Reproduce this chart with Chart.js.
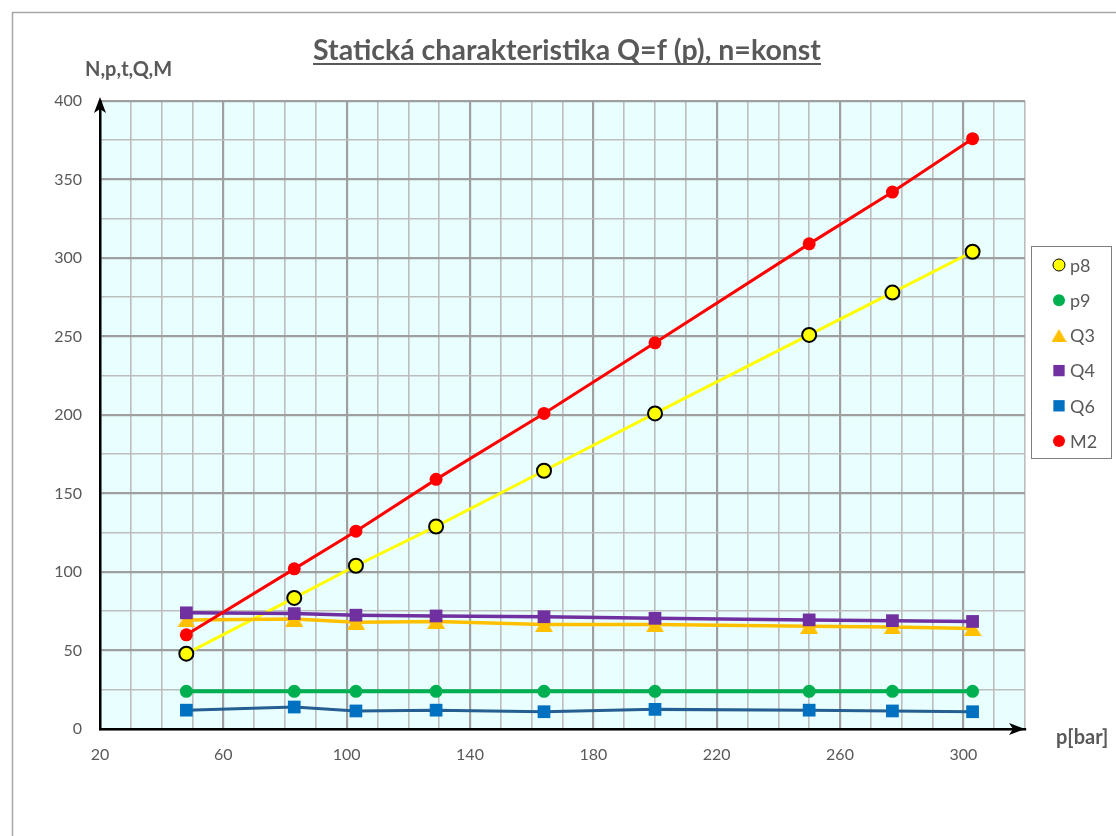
<!DOCTYPE html>
<html>
<head>
<meta charset="utf-8">
<script src="https://cdn.jsdelivr.net/npm/chart.js@4/dist/chart.umd.min.js"></script>
<style>
  html, body { margin: 0; padding: 0; background: #fff; }
  canvas { display: block; }
</style>
</head>
<body>
<canvas id="c" width="1116" height="836"></canvas>
<script>
// p [bar] on the x axis
const pressure = [48, 83, 103, 129, 164, 200, 250, 277, 303];
const p8 = [48, 83.5, 104, 129, 164.5, 201, 251, 278, 304];
const p9 = [24, 24, 24, 24, 24, 24, 24, 24, 24];
const Q3 = [69.5, 70, 68, 68.5, 66.5, 66.5, 65.5, 65, 64];
const Q4 = [74, 73.5, 72.5, 72, 71.5, 70.5, 69.5, 69, 68.5];
const Q6 = [12, 14, 11.5, 12, 11, 12.5, 12, 11.5, 11];
const M2 = [60, 102, 126, 159, 201, 246, 309, 342, 376];

const xLabels = [20, 60, 100, 140, 180, 220, 260, 300];
const yLabels = [0, 50, 100, 150, 200, 250, 300, 350, 400];

const TITLE = 'Statická charakteristika Q=f (p), n=konst';
const Y_NAME = 'N,p,t,Q,M';
const X_NAME = 'p[bar]';
const GREY_TXT = '#595959';
const FONT = 'Lato, "Liberation Sans", sans-serif';

// excel style triangle: box centred on the point
function makeTriangle(w, h, color) {
  const cv = document.createElement('canvas');
  cv.width = w; cv.height = h;
  const g = cv.getContext('2d');
  g.fillStyle = color;
  g.beginPath();
  g.moveTo(w / 2, 0);
  g.lineTo(w, h);
  g.lineTo(0, h);
  g.closePath();
  g.fill();
  return cv;
}
const triBig = makeTriangle(18, 15, '#FFC000');
const triSmall = makeTriangle(15, 13, '#FFC000');

function pts(arr) {
  return pressure.map((x, i) => ({ x, y: arr[i] }));
}

const series = [
  { label: 'p8', data: p8, line: '#FFFF00', fill: '#FFFF00', border: '#000000', bw: 2, style: 'circle', r: 7, lw: 3, order: 6 },
  { label: 'p9', data: p9, line: '#00B050', fill: '#00B050', border: '#00B050', bw: 0, style: 'circle', r: 6.5, lw: 4, order: 5 },
  { label: 'Q3', data: Q3, line: '#FFC000', fill: '#FFC000', border: '#FFC000', bw: 0, style: triBig, r: 9, lw: 3.5, order: 4 },
  { label: 'Q4', data: Q4, line: '#7030A0', fill: '#7030A0', border: '#7030A0', bw: 0, style: 'rect', r: 9, lw: 3.5, order: 3 },
  { label: 'Q6', data: Q6, line: '#255E91', fill: '#0070C0', border: '#0070C0', bw: 0, style: 'rect', r: 9, lw: 3, order: 2 },
  { label: 'M2', data: M2, line: '#FF0000', fill: '#FF0000', border: '#FF0000', bw: 0, style: 'circle', r: 6.5, lw: 3, order: 1 }
];

const datasets = series.map(s => ({
  label: s.label,
  data: pts(s.data),
  borderColor: s.line,
  borderWidth: s.lw,
  backgroundColor: s.fill,
  pointBackgroundColor: s.fill,
  pointBorderColor: s.border,
  pointBorderWidth: s.bw,
  pointStyle: s.style,
  pointRadius: s.r,
  pointHoverRadius: s.r,
  tension: 0,
  order: s.order
}));

const isMajorX = v => (v - 20) % 40 === 0;
const isMajorY = v => v % 50 === 0;

const decor = {
  id: 'decor',
  beforeDraw(chart) {
    const ctx = chart.ctx, a = chart.chartArea;
    ctx.save();
    ctx.fillStyle = '#ffffff';
    ctx.fillRect(0, 0, chart.width, chart.height);
    // outer frame
    ctx.strokeStyle = '#A6A6A6';
    ctx.lineWidth = 1.5;
    ctx.strokeRect(12.5, 12.5, chart.width + 20, chart.height + 20);
    ctx.fillStyle = '#E9FFFF';
    ctx.fillRect(a.left, a.top, a.right - a.left, a.bottom - a.top);
    ctx.restore();
  },
  afterDraw(chart) {
    const ctx = chart.ctx, a = chart.chartArea;
    ctx.save();
    // axis arrows
    ctx.fillStyle = '#000';
    ctx.beginPath();
    ctx.moveTo(a.left, a.top - 4);
    ctx.lineTo(a.left - 6, a.top + 12);
    ctx.lineTo(a.left, a.top + 8);
    ctx.lineTo(a.left + 6, a.top + 12);
    ctx.closePath();
    ctx.fill();
    ctx.beginPath();
    ctx.moveTo(a.right, a.bottom);
    ctx.lineTo(a.right - 16, a.bottom - 6);
    ctx.lineTo(a.right - 12, a.bottom);
    ctx.lineTo(a.right - 16, a.bottom + 6);
    ctx.closePath();
    ctx.fill();

    // title, underlined
    ctx.fillStyle = GREY_TXT;
    ctx.font = 'bold 28.5px ' + FONT;
    ctx.textAlign = 'center';
    ctx.textBaseline = 'alphabetic';
    const tx = 567, ty = 60;
    ctx.fillText(TITLE, tx, ty);
    const tw = ctx.measureText(TITLE).width;
    ctx.strokeStyle = GREY_TXT;
    ctx.lineWidth = 2;
    ctx.beginPath();
    ctx.moveTo(tx - tw / 2, ty + 4);
    ctx.lineTo(tx + tw / 2, ty + 4);
    ctx.stroke();

    // axis names
    ctx.font = 'bold 20px ' + FONT;
    ctx.textAlign = 'left';
    ctx.textBaseline = 'middle';
    ctx.fillText(Y_NAME, 85, 70);
    ctx.fillText(X_NAME, 1056, 738);

    // legend
    const lx = 1031, ly = 246, lw = 80, lh = 212;
    ctx.fillStyle = '#fff';
    ctx.fillRect(lx, ly, lw, lh);
    ctx.strokeStyle = '#7F7F7F';
    ctx.lineWidth = 1;
    ctx.strokeRect(lx + 0.5, ly + 0.5, lw, lh);
    ctx.font = '18px ' + FONT;
    series.forEach((s, i) => {
      const y = 265 + i * 35.2;
      if (typeof s.style === 'string') {
        ctx.fillStyle = s.fill;
        ctx.strokeStyle = s.border;
        const r = s.style === 'circle' ? 6 : 8;
        Chart.helpers.drawPoint(ctx, { pointStyle: s.style, radius: r, rotation: 0, borderWidth: s.bw }, 1059, y);
      } else {
        ctx.drawImage(triSmall, 1059 - triSmall.width / 2, y - triSmall.height / 2);
      }
      ctx.fillStyle = GREY_TXT;
      ctx.fillText(s.label, 1070, y + 1);
    });
    ctx.restore();
  }
};

new Chart(document.getElementById('c'), {
  type: 'line',
  data: { datasets },
  options: {
    responsive: false,
    animation: false,
    layout: { padding: { top: 101, left: 0, right: 91, bottom: 67 } },
    plugins: { legend: { display: false }, title: { display: false }, tooltip: { enabled: false } },
    scales: {
      x: {
        type: 'linear',
        min: 20,
        max: 320,
        afterFit(scale) { scale.height = 40; },
        ticks: {
          stepSize: 10,
          autoSkip: false,
          maxRotation: 0,
          padding: 16,
          color: GREY_TXT,
          font: { family: FONT, size: 16 },
          callback: v => xLabels.includes(v) ? String(v) : ''
        },
        grid: {
          drawTicks: false,
          color: c => (c.tick && isMajorX(c.tick.value)) ? '#9F9F9F' : '#BDBDBD',
          lineWidth: c => (c.tick && isMajorX(c.tick.value)) ? 2.2 : 1.6
        },
        border: { color: '#000000', width: 2.5 }
      },
      y: {
        min: 0,
        max: 400,
        afterFit(scale) { scale.width = 100; },
        ticks: {
          stepSize: 25,
          autoSkip: false,
          padding: 18,
          color: GREY_TXT,
          font: { family: FONT, size: 16 },
          callback: v => yLabels.includes(v) ? String(v) : ''
        },
        grid: {
          drawTicks: false,
          color: c => (c.tick && isMajorY(c.tick.value)) ? '#9F9F9F' : '#BDBDBD',
          lineWidth: c => (c.tick && isMajorY(c.tick.value)) ? 2.2 : 1.6
        },
        border: { color: '#000000', width: 2.5 }
      }
    }
  },
  plugins: [decor]
});
</script>
</body>
</html>
